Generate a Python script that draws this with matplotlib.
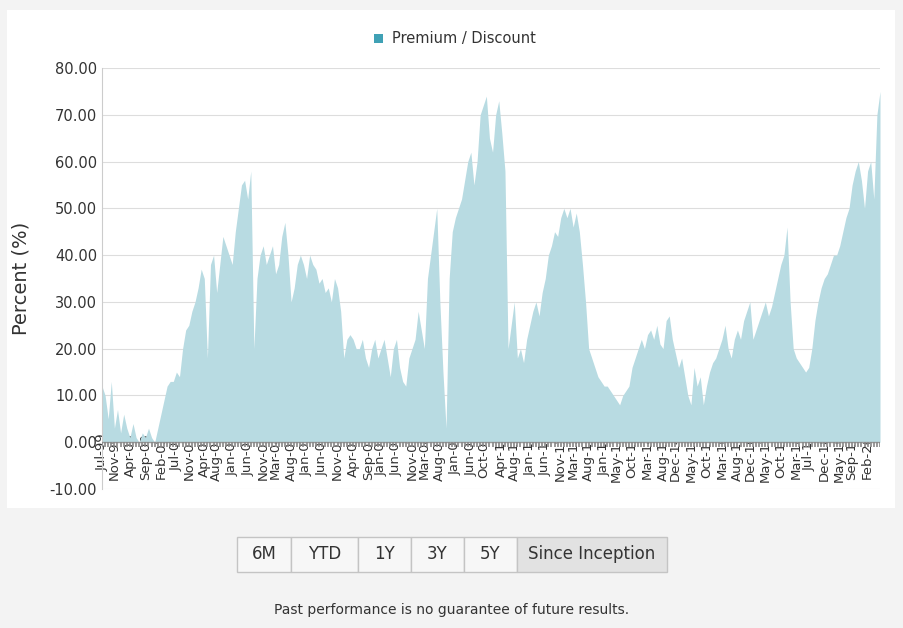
import numpy as np
import matplotlib.pyplot as plt
from matplotlib.patches import Rectangle
from datetime import datetime

# monthly premium/discount (%), Jul-99 .. Jun-20
v1999 = [12, 10, 5, 13, 3, 7]
v2000 = [2, 6, 3, 1, 4, 1, 0, 2, 1, 3, 1, 0]
v2001 = [3, 6, 9, 12, 13, 13, 15, 14, 20, 24, 25, 28]
v2002 = [30, 33, 37, 35, 18, 38, 40, 32, 38, 44, 42, 40]
v2003 = [38, 45, 50, 55, 56, 52, 58, 20, 35, 40, 42, 38]
v2004 = [40, 42, 36, 38, 44, 47, 40, 30, 33, 38, 40, 38]
v2005 = [35, 40, 38, 37, 34, 35, 32, 33, 30, 35, 33, 28]
v2006 = [18, 22, 23, 22, 20, 20, 22, 18, 16, 20, 22, 18]
v2007 = [20, 22, 18, 14, 20, 22, 16, 13, 12, 18, 20, 22]
v2008 = [28, 24, 20, 35, 40, 45, 50, 30, 15, 3, 35, 45]
v2009 = [48, 50, 52, 56, 60, 62, 55, 60, 70, 72, 74, 65]
v2010 = [62, 70, 73, 66, 58, 20, 25, 30, 18, 20, 17, 22]
v2011 = [25, 28, 30, 27, 32, 35, 40, 42, 45, 44, 48, 50]
v2012 = [48, 50, 46, 49, 45, 38, 30, 20, 18, 16, 14, 13]
v2013 = [12, 12, 11, 10, 9, 8, 10, 11, 12, 16, 18, 20]
v2014 = [22, 20, 23, 24, 22, 25, 21, 20, 26, 27, 22, 19]
v2015 = [16, 18, 14, 10, 8, 16, 12, 14, 8, 12, 15, 17]
v2016 = [18, 20, 22, 25, 20, 18, 22, 24, 22, 26, 28, 30]
v2017 = [22, 24, 26, 28, 30, 27, 29, 32, 35, 38, 40, 46]
v2018 = [30, 20, 18, 17, 16, 15, 16, 20, 26, 30, 33, 35]
v2019 = [36, 38, 40, 40, 42, 45, 48, 50, 55, 58, 60, 56]
v2020 = [50, 58, 60, 52, 70, 75]
values = (v1999 + v2000 + v2001 + v2002 + v2003 + v2004 + v2005 + v2006 + v2007 + v2008
          + v2009 + v2010 + v2011 + v2012 + v2013 + v2014 + v2015 + v2016 + v2017
          + v2018 + v2019 + v2020)

tick_labels = ['Jul-99', 'Nov-99', 'Apr-00', 'Sep-00', 'Feb-01', 'Jul-01', 'Nov-01', 'Apr-02',
               'Aug-02', 'Jan-03', 'Jun-03', 'Nov-03', 'Mar-04', 'Aug-04', 'Jan-05', 'Jun-05',
               'Nov-05', 'Apr-06', 'Sep-06', 'Jan-07', 'Jun-07', 'Nov-07', 'Mar-08', 'Aug-08',
               'Jan-09', 'Jun-09', 'Oct-09', 'Apr-10', 'Aug-10', 'Jan-11', 'Jun-11', 'Nov-11',
               'Mar-12', 'Aug-12', 'Jan-13', 'May-13', 'Oct-13', 'Mar-14', 'Aug-14', 'Dec-14',
               'May-15', 'Oct-15', 'Mar-16', 'Aug-16', 'Dec-16', 'May-17', 'Oct-17', 'Mar-18',
               'Jul-18', 'Dec-18', 'May-19', 'Sep-19', 'Feb-20']

def month_index(lbl):
    d = datetime.strptime(lbl, '%b-%y')
    return (d.year - 1999) * 12 + d.month - 7

x = np.arange(len(values))

fig = plt.figure(figsize=(9.04, 6.28), dpi=100, facecolor='#f3f3f3')
fig.patches.append(Rectangle((7 / 904, 1 - 508 / 628), 888 / 904, 498 / 628,
                             transform=fig.transFigure, facecolor='white', edgecolor='none', zorder=-5))

ax = fig.add_axes([102 / 904, 1 - 442 / 628, 778 / 904, (442 - 68) / 628])
ax.set_zorder(5)
ax.set_facecolor('none')
# y axis spans -10..80 with -10 at the bottom of the axes (negative region below zero)
ax.set_position([102 / 904, 1 - 489 / 628, 778 / 904, (489 - 68) / 628])
ax.fill_between(x, 0, values, color='#b8dbe2', linewidth=0, zorder=2)
ax.set_xlim(0, len(values) - 1)
ax.set_ylim(-10, 80)
ax.set_yticks(np.arange(-10, 81, 10))
ax.set_yticklabels(['%.2f' % t for t in np.arange(-10, 81, 10)], fontsize=10.5, color='#333333')
ax.grid(axis='y', color='#dddddd', linewidth=0.8, zorder=0)
for s in ['top', 'right', 'bottom']:
    ax.spines[s].set_visible(False)
ax.spines['left'].set_color('#cccccc')
ax.axhline(0, color='#999999', linewidth=1, zorder=3)
# dense tick band below zero line
ax.vlines(x, -1.0, 0, color='#888888', linewidth=1.2, zorder=3)
ax.set_xticks([month_index(l) for l in tick_labels])
ax.set_xticklabels(tick_labels, rotation=90, fontsize=9.5, color='#333333')
ax.tick_params(axis='x', length=0, pad=-40)
for t in ax.get_xticklabels():
    t.set_va('top')
ax.tick_params(axis='y', length=0)
ax.set_ylabel('Percent (%)', fontsize=14, color='#333333', labelpad=14)

# legend
fig.patches.append(Rectangle((374 / 904, 1 - 43 / 628), 9 / 904, 9 / 628,
                             transform=fig.transFigure, facecolor='#3fa1b5', edgecolor='none'))
fig.text(392 / 904, 1 - 38 / 628, 'Premium / Discount', fontsize=10.5, color='#333333', va='center')

# buttons
buttons = [('6M', 237, 291), ('YTD', 291, 358), ('1Y', 358, 411), ('3Y', 411, 464),
           ('5Y', 464, 517), ('Since Inception', 517, 667)]
for name, x0, x1 in buttons:
    fc = '#e2e2e2' if name == 'Since Inception' else '#f7f7f7'
    fig.patches.append(Rectangle((x0 / 904, 1 - 572 / 628), (x1 - x0) / 904, 35 / 628,
                                 transform=fig.transFigure, facecolor=fc, edgecolor='#c4c4c4', linewidth=1))
    fig.text((x0 + x1) / 2 / 904, 1 - 554 / 628, name, fontsize=12, color='#333333',
             ha='center', va='center')

fig.text(452 / 904, 1 - 610 / 628, 'Past performance is no guarantee of future results.',
         fontsize=10, color='#333333', ha='center', va='center')

fig.savefig('out.png', dpi=100, facecolor=fig.get_facecolor())
